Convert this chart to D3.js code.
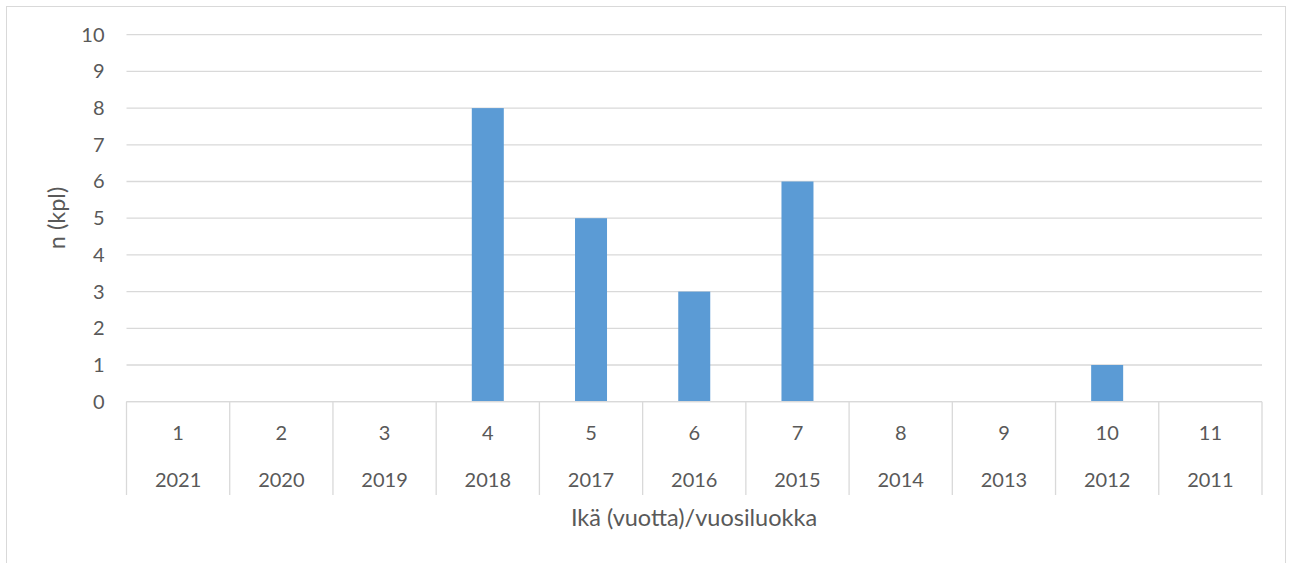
<!DOCTYPE html>
<html>
<head>
<meta charset="utf-8">
<script src="https://cdn.jsdelivr.net/npm/d3@7"></script>
<style>
    body { margin: 0; background: #fff; }
    text { font-family: Lato, "Open Sans", sans-serif; fill: #595959; }
</style>
</head>
<body>
<svg id="chart"></svg>
<script>
// Daten
const ages = ["1", "2", "3", "4", "5", "6", "7", "8", "9", "10", "11"];
const years = ["2021", "2020", "2019", "2018", "2017", "2016", "2015", "2014", "2013", "2012", "2011"];
const counts = [0, 0, 0, 8, 5, 3, 6, 0, 0, 1, 0];
const yTicks = [0, 1, 2, 3, 4, 5, 6, 7, 8, 9, 10];

const width = 1292;
const height = 563;
const plot = { left: 126.5, right: 1262, top: 34.7, bottom: 401.7 };

const svg = d3.select("#chart")
    .attr("width", width)
    .attr("height", height);

// Rahmen
svg.append("rect")
    .attr("x", 6.5).attr("y", 6.5)
    .attr("width", 1279).attr("height", 600)
    .attr("fill", "none")
    .attr("stroke", "#d9d9d9");

// Skalen
const xScale = d3.scaleBand()
    .domain(ages)
    .range([plot.left, plot.right])
    .paddingInner(0.69)
    .paddingOuter(0.345);

const xCat = d3.scaleBand()
    .domain(ages)
    .range([plot.left, plot.right]);

const yScale = d3.scaleLinear()
    .domain([0, 10])
    .range([plot.bottom, plot.top]);

// Gitterlinien
svg.append("g")
    .selectAll("line")
    .data(yTicks)
    .join("line")
        .attr("x1", plot.left)
        .attr("x2", plot.right)
        .attr("y1", d => yScale(d))
        .attr("y2", d => yScale(d))
        .attr("stroke", "#d9d9d9")
        .attr("stroke-width", 1.3);

// Y Achse
const yAxis = svg.append("g")
    .attr("transform", `translate(${plot.left}, 0)`)
    .call(d3.axisLeft(yScale).tickValues(yTicks).tickSize(0).tickPadding(22));
yAxis.select(".domain").remove();
yAxis.selectAll("text")
    .attr("font-size", 20)
    .attr("fill", "#595959")
    .style("font-family", "Lato, 'Open Sans', sans-serif");

// Balken
svg.append("g")
    .selectAll("rect")
    .data(counts)
    .join("rect")
        .attr("x", (d, i) => xScale(ages[i]))
        .attr("y", d => yScale(d))
        .attr("width", xScale.bandwidth())
        .attr("height", d => yScale(0) - yScale(d))
        .attr("fill", "#5b9bd5");

// Kategorie-Trennlinien (zweistufige Achse)
const edges = ages.map(a => xCat(a)).concat([plot.right]);
svg.append("g")
    .selectAll("line")
    .data(edges)
    .join("line")
        .attr("x1", d => d)
        .attr("x2", d => d)
        .attr("y1", plot.bottom)
        .attr("y2", 495)
        .attr("stroke", "#d9d9d9")
        .attr("stroke-width", 1.3);

svg.append("line")
    .attr("x1", plot.left).attr("x2", plot.right)
    .attr("y1", plot.bottom).attr("y2", plot.bottom)
    .attr("stroke", "#d9d9d9")
    .attr("stroke-width", 1.3);

// Beschriftungen
svg.append("g")
    .selectAll("text")
    .data(ages)
    .join("text")
        .attr("x", d => xCat(d) + xCat.bandwidth() / 2)
        .attr("y", 433)
        .attr("dy", "0.35em")
        .attr("text-anchor", "middle")
        .attr("font-size", 20)
        .text(d => d);

svg.append("g")
    .selectAll("text")
    .data(years)
    .join("text")
        .attr("x", (d, i) => xCat(ages[i]) + xCat.bandwidth() / 2)
        .attr("y", 480)
        .attr("dy", "0.35em")
        .attr("text-anchor", "middle")
        .attr("font-size", 20)
        .text(d => d);

// Achsentitel
svg.append("text")
    .attr("x", 694)
    .attr("y", 526)
    .attr("text-anchor", "middle")
    .attr("font-size", 23.5)
    .text("Ikä (vuotta)/vuosiluokka");

svg.append("text")
    .attr("transform", "translate(65, 218) rotate(-90)")
    .attr("text-anchor", "middle")
    .attr("font-size", 23.5)
    .text("n (kpl)");
</script>
</body>
</html>
